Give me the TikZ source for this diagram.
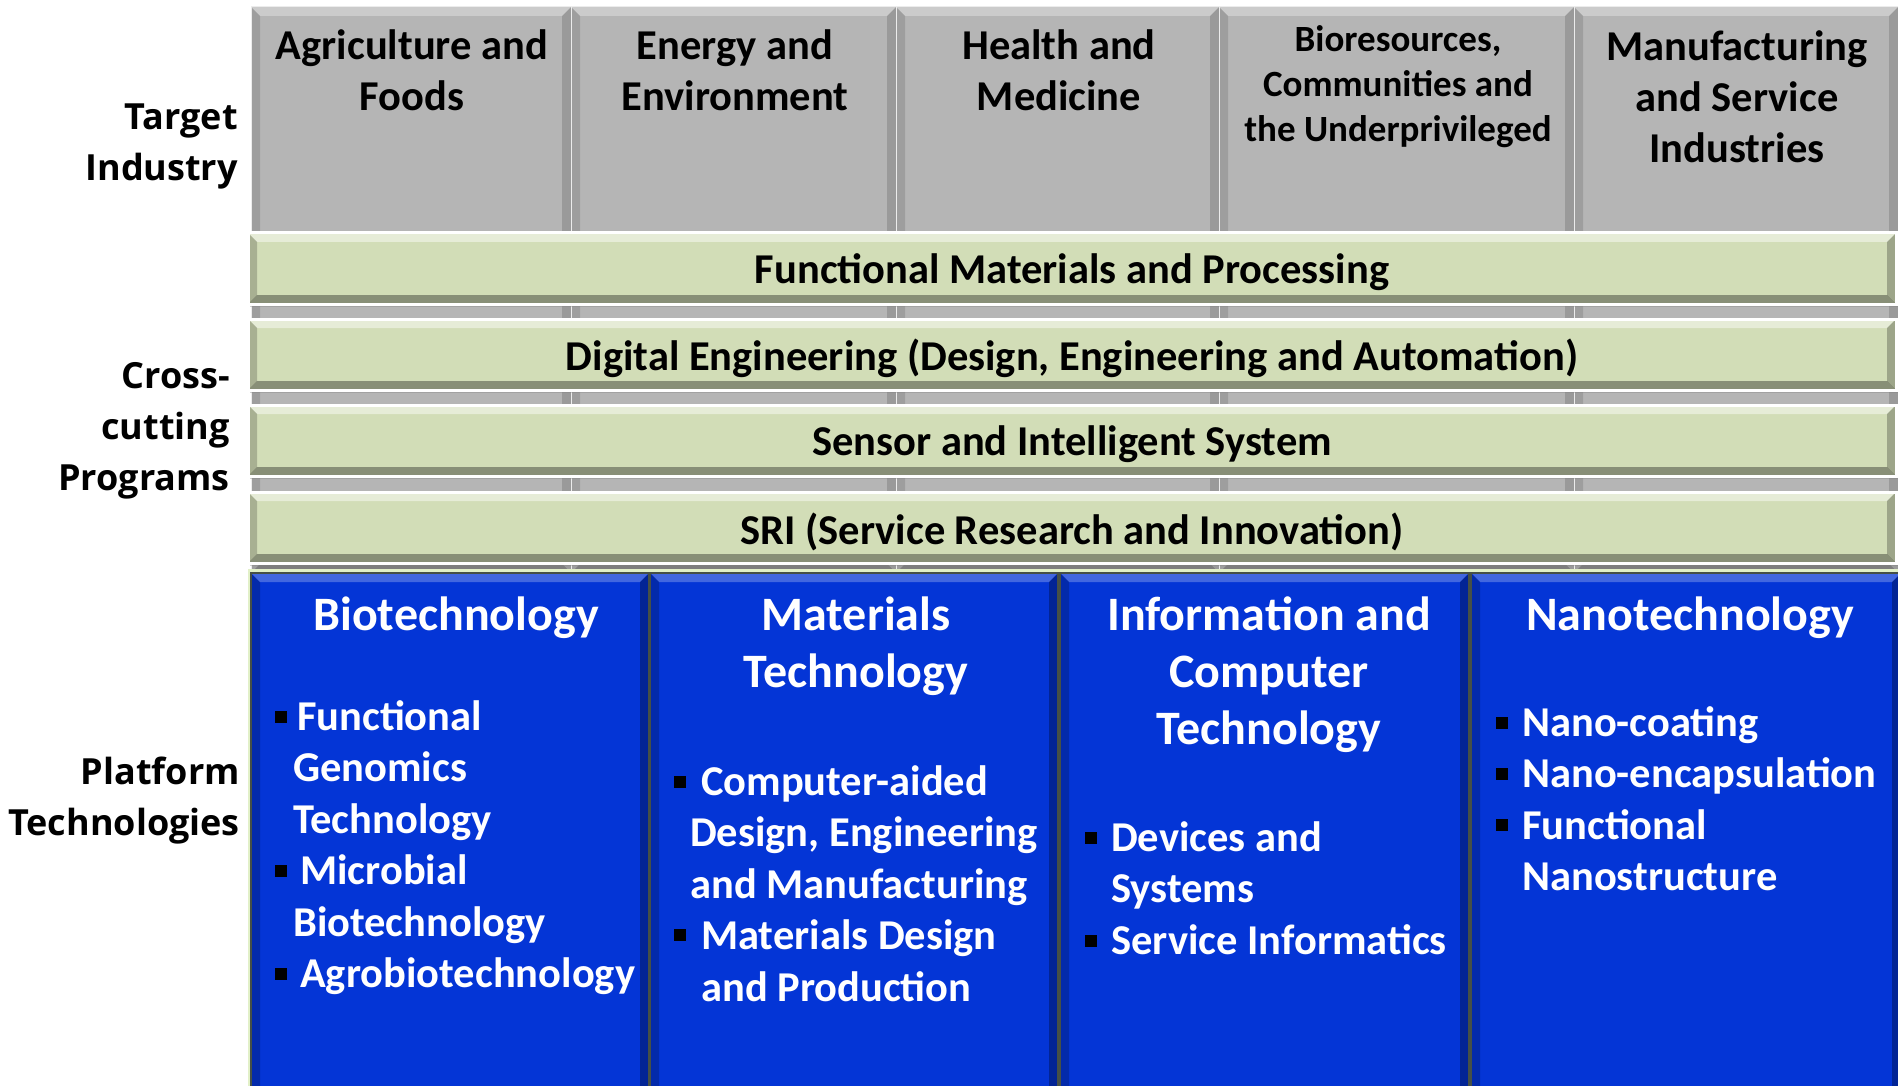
\documentclass[tikz,border=0pt]{standalone}
\usepackage{fontspec}
\setmainfont{Carlito}
\newfontfamily\lblfont{Open Sans}
\usetikzlibrary{calc,shadows}
\definecolor{grayfill}{RGB}{181,181,181}
\definecolor{greenfill}{RGB}{210,221,183}
\definecolor{bluefill}{RGB}{4,53,214}
\definecolor{bluesep}{RGB}{70,80,70}
\definecolor{lightgreen}{RGB}{226,240,200}
\tikzset{
  bev/.style n args={4}{path picture={
    \coordinate (pnw) at (path picture bounding box.north west);
    \coordinate (pse) at (path picture bounding box.south east);
    \coordinate (pne) at (pnw -| pse);
    \coordinate (psw) at (pnw |- pse);
    \fill[white,opacity=#1] (pnw) -- (pne) -- ($(pne)+(-9pt,-9pt)$) -- ($(pnw)+(9pt,-9pt)$) -- cycle;
    \fill[black,opacity=#2] (pnw) -- (psw) -- ($(psw)+(9pt,9pt)$) -- ($(pnw)+(9pt,-9pt)$) -- cycle;
    \fill[black,opacity=#3] (pne) -- (pse) -- ($(pse)+(-9pt,9pt)$) -- ($(pne)+(-9pt,-9pt)$) -- cycle;
    \fill[black,opacity=#4] (psw) -- (pse) -- ($(pse)+(-9pt,9pt)$) -- ($(psw)+(9pt,9pt)$) -- cycle;
  }},
  colbox/.style={rectangle, inner sep=0pt, outer sep=0pt, anchor=north west,
    fill=grayfill, draw=white!85!gray, line width=1pt, minimum height=566pt,
    bev={0.3}{0.12}{0.15}{0.3}},
  barbox/.style={rectangle, inner sep=0pt, outer sep=0pt, anchor=north west,
    fill=greenfill, draw=white, line width=3pt, minimum width=1648pt, minimum height=71pt,
    drop shadow={shadow xshift=2pt, shadow yshift=-3pt, opacity=0.35},
    bev={0.45}{0.2}{0.25}{0.35}},
  bartext/.style={inner sep=0pt, yshift=-4pt, font=\fontsize{42.5}{50}\selectfont\bfseries, text=black},
  techbox/.style={rectangle, inner sep=0pt, outer sep=0pt, anchor=north west,
    fill=bluefill, draw=bluesep, line width=2pt, minimum height=530pt,
    bev={0.25}{0.2}{0.3}{0.3}},
  coltext/.style={anchor=north, inner sep=0pt, align=center,
    font=\fontsize{42.5}{51}\selectfont\bfseries, text=black},
  sidelabel/.style={anchor=north east, inner sep=0pt, align=right,
    font=\lblfont\fontsize{36}{51}\selectfont\bfseries, text=black},
  techtitle/.style={anchor=north, inner sep=0pt, align=center,
    font=\fontsize{48}{57}\selectfont\bfseries, text=white},
  techlist/.style={anchor=north west, inner sep=0pt, align=left,
    font=\fontsize{42.5}{51.5}\selectfont\bfseries, text=white},
  bul/.style={fill=black}
}
\begin{document}
\begin{tikzpicture}[x=1pt,y=-1pt]
\useasboundingbox (0,0) rectangle (1898,1086);
\fill[white] (0,0) rectangle (1898,1086);

% Target industry columns
\node[colbox, minimum width=320pt] (c1) at (251,7) {};
\node[colbox, minimum width=325pt] (c2) at (571,7) {};
\node[colbox, minimum width=323pt] (c3) at (896,7) {};
\node[colbox, minimum width=355pt] (c4) at (1219,7) {};
\node[colbox, minimum width=324pt] (c5) at (1574,7) {};

\node[coltext] (t1) at (412,29) {Agriculture and\\Foods};
\node[coltext] (t2) at (735,29) {Energy and\\Environment};
\node[coltext] (t3) at (1059,29) {Health and\\Medicine};
\node[coltext, font=\fontsize{37}{45}\selectfont\bfseries] (t4) at (1398,25) {Bioresources,\\Communities and\\the Underprivileged};
\node[coltext] (t5) at (1737,30) {Manufacturing\\and Service\\Industries};

% Cross-cutting programs
\node[barbox] (b1) at (248,233) {};
\node[barbox] (b2) at (248,319) {};
\node[barbox] (b3) at (248,405) {};
\node[barbox] (b4) at (248,492) {};
\node[bartext] (bt1) at (b1.center) {Functional Materials and Processing};
\node[bartext] (bt2) at (b2.center) {Digital Engineering (Design, Engineering and Automation)};
\node[bartext] (bt3) at (b3.center) {Sensor and Intelligent System};
\node[bartext] (bt4) at (b4.center) {SRI (Service Research and Innovation)};

% Platform technologies
\fill[lightgreen] (248,569) rectangle (1898,1086);
\node[techbox, minimum width=398pt] (p1) at (251,573) {};
\node[techbox, minimum width=408pt] (p2) at (650,573) {};
\node[techbox, minimum width=409pt] (p3) at (1060,573) {};
\node[techbox, minimum width=430pt] (p4) at (1471,573) {};

\node[techtitle] (h1) at (456,597) {Biotechnology};
\node[techtitle] (h2) at (856,597) {Materials\\Technology};
\node[techtitle] (h3) at (1269,597) {Information and\\Computer\\Technology};
\node[techtitle] (h4) at (1690,597) {Nanotechnology};

\node[techlist] (l1) at (293,700) {\hspace*{4pt}Functional\\Genomics\\Technology\\\hspace*{7pt}Microbial\\Biotechnology\\\hspace*{7pt}Agrobiotechnology};
\node[techlist] (l2) at (690,765) {\hspace*{11pt}Computer-aided\\Design, Engineering\\and Manufacturing\\\hspace*{11pt}Materials Design\\\hspace*{11pt}and Production};
\node[techlist] (l3) at (1111,821) {Devices and\\Systems\\Service Informatics};
\node[techlist] (l4) at (1522,706) {Nano-coating\\Nano-encapsulation\\Functional\\Nanostructure};

\foreach \bx/\by in {275/717, 275/871, 275/974, 674/782, 674/935, 1085/838, 1085/941, 1496/723, 1496/774, 1496/825}
  \fill[bul] (\bx,\by-6) rectangle ++(12,12);

% Side labels
\node[sidelabel] (s1) at (238,104) {Target\\Industry};
\node[sidelabel] (s2) at (230,362) {Cross-\\cutting\\Programs};
\node[sidelabel] (s3) at (240,757) {Platform\\Technologies};
\end{tikzpicture}
\end{document}
